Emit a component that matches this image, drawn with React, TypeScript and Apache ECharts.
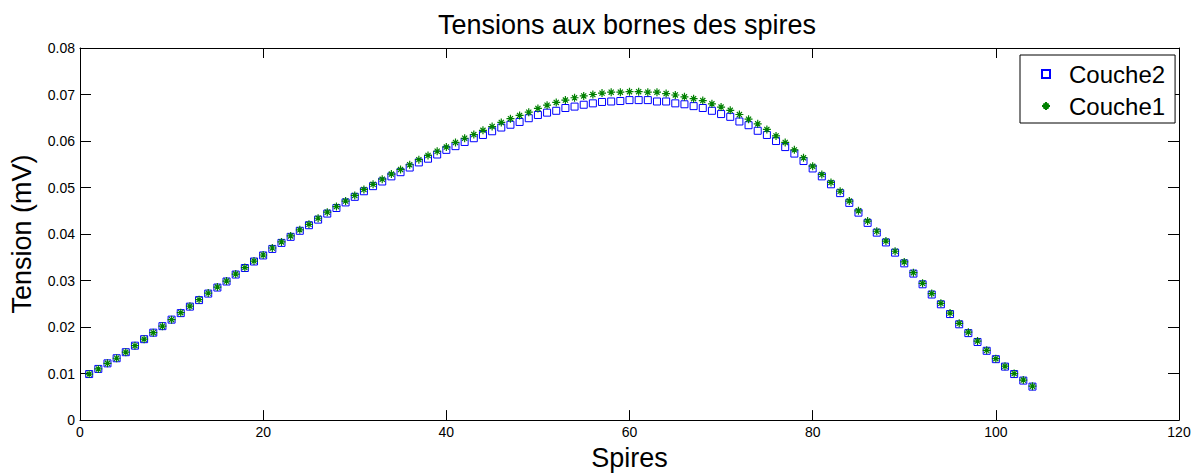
import React, { useEffect, useRef } from "react";
import * as echarts from "echarts";

const FONT = "'Liberation Sans', Arial, Helvetica, sans-serif";

const titleText = "Tensions aux bornes des spires";
const xAxisName = "Spires";
const yAxisName = "Tension (mV)";
const seriesNames = ["Couche2", "Couche1"];

const xTicks = [0, 20, 40, 60, 80, 100, 120];
const yTickLabels = ["0", "0.01", "0.02", "0.03", "0.04", "0.05", "0.06", "0.07", "0.08"];

// Couche2 (blue squares), spires 1..104
const couche2 = [
  0.0099, 0.0110, 0.0122, 0.0133, 0.0146, 0.0160, 0.0174, 0.0188, 0.0202, 0.0216,
  0.0230, 0.0244, 0.0258, 0.0272, 0.0285, 0.0298, 0.0313, 0.0327, 0.0341, 0.0354,
  0.0368, 0.0381, 0.0394, 0.0407, 0.0419, 0.0431, 0.0444, 0.0456, 0.0468, 0.0480,
  0.0492, 0.0503, 0.0513, 0.0524, 0.0533, 0.0543, 0.0554, 0.0562, 0.0571, 0.0581,
  0.0589, 0.0598, 0.0606, 0.0613, 0.0621, 0.0629, 0.0635, 0.0641, 0.0649, 0.0656,
  0.0661, 0.0665, 0.0671, 0.0674, 0.0678, 0.0681, 0.0684, 0.0685, 0.0686, 0.0688,
  0.0688, 0.0688, 0.0685, 0.0685, 0.0681, 0.0679, 0.0675, 0.0671, 0.0665, 0.0658,
  0.0652, 0.0642, 0.0634, 0.0622, 0.0613, 0.0600, 0.0587, 0.0573, 0.0557, 0.0541,
  0.0524, 0.0507, 0.0488, 0.0467, 0.0446, 0.0424, 0.0403, 0.0382, 0.0360, 0.0337,
  0.0315, 0.0292, 0.0270, 0.0249, 0.0228, 0.0206, 0.0187, 0.0168, 0.0149, 0.0131,
  0.0115, 0.0099, 0.0085, 0.0072,
];

// Couche1 (green asterisks), spires 1..104
const couche1 = [
  0.0099, 0.0110, 0.0122, 0.0133, 0.0146, 0.0160, 0.0174, 0.0188, 0.0202, 0.0216,
  0.0231, 0.0245, 0.0259, 0.0273, 0.0286, 0.0299, 0.0314, 0.0328, 0.0342, 0.0355,
  0.0370, 0.0383, 0.0396, 0.0409, 0.0421, 0.0434, 0.0447, 0.0459, 0.0471, 0.0483,
  0.0496, 0.0507, 0.0518, 0.0529, 0.0539, 0.0549, 0.0560, 0.0569, 0.0578, 0.0587,
  0.0597, 0.0606, 0.0614, 0.0623, 0.0631, 0.0640, 0.0648, 0.0655, 0.0662, 0.0670,
  0.0677, 0.0683, 0.0688, 0.0693, 0.0697, 0.0700, 0.0703, 0.0705, 0.0705, 0.0706,
  0.0706, 0.0705, 0.0705, 0.0702, 0.0699, 0.0695, 0.0691, 0.0687, 0.0680, 0.0673,
  0.0666, 0.0657, 0.0647, 0.0637, 0.0625, 0.0611, 0.0597, 0.0581, 0.0564, 0.0546,
  0.0528, 0.0511, 0.0492, 0.0471, 0.0450, 0.0428, 0.0406, 0.0385, 0.0363, 0.0340,
  0.0317, 0.0294, 0.0272, 0.0251, 0.0230, 0.0208, 0.0189, 0.0170, 0.0150, 0.0132,
  0.0116, 0.0100, 0.0086, 0.0073,
];

const STAR = "path://M5 0L5 10M0 5L10 5M1.8 1.8L8.2 8.2M1.8 8.2L8.2 1.8";

export default function App() {
  const ref = useRef<HTMLDivElement>(null);

  useEffect(() => {
    if (!ref.current) return;
    const chart = echarts.init(ref.current, undefined, { renderer: "svg" });

    const axisLine = { show: true, onZero: false, lineStyle: { color: "#000", width: 1 } };
    const xMin = xTicks[0];
    const xMax = xTicks[xTicks.length - 1];
    const xInterval = xTicks[1] - xTicks[0];
    const yMax = parseFloat(yTickLabels[yTickLabels.length - 1]);
    const yInterval = parseFloat(yTickLabels[1]);

    chart.setOption({
      animation: false,
      backgroundColor: "#fff",
      textStyle: { fontFamily: FONT },
      title: {
        text: titleText,
        left: 627,
        top: 11,
        textAlign: "center",
        padding: 0,
        textStyle: { fontFamily: FONT, fontSize: 27, fontWeight: "normal", color: "#000" },
      },
      legend: {
        data: seriesNames,
        orient: "vertical",
        left: 1020,
        top: 55,
        padding: [7, 10, 5, 21],
        itemGap: 8,
        itemWidth: 8,
        itemHeight: 8,
        backgroundColor: "#fff",
        borderColor: "#000",
        borderWidth: 1,
        textStyle: {
          fontFamily: FONT,
          fontSize: 24,
          lineHeight: 24,
          color: "#000",
          padding: [0, 0, 0, 14],
        },
      },
      grid: { left: 77, right: 21, top: 48, bottom: 51, containLabel: false },
      xAxis: [
        {
          type: "value",
          min: xMin,
          max: xMax,
          interval: xInterval,
          position: "bottom",
          name: xAxisName,
          nameLocation: "middle",
          nameGap: 22,
          nameTextStyle: { fontFamily: FONT, fontSize: 27, color: "#000" },
          axisLine,
          axisTick: { show: true, inside: true, length: 10, lineStyle: { color: "#000" } },
          axisLabel: { show: true, margin: 5, fontFamily: FONT, fontSize: 14, color: "#000" },
          splitLine: { show: false },
        },
        {
          type: "value",
          min: xMin,
          max: xMax,
          interval: xInterval,
          position: "top",
          axisLine,
          axisTick: { show: true, inside: true, length: 10, lineStyle: { color: "#000" } },
          axisLabel: { show: false },
          splitLine: { show: false },
        },
      ],
      yAxis: [
        {
          type: "value",
          min: 0,
          max: yMax,
          interval: yInterval,
          position: "left",
          name: yAxisName,
          nameLocation: "middle",
          nameGap: 45,
          nameTextStyle: { fontFamily: FONT, fontSize: 27, color: "#000" },
          axisLine,
          axisTick: { show: true, inside: true, length: 11, lineStyle: { color: "#000" } },
          axisLabel: {
            show: true,
            margin: 5,
            fontFamily: FONT,
            fontSize: 14,
            color: "#000",
            formatter: (v: number) => yTickLabels[Math.round(v / yInterval)] ?? String(v),
          },
          splitLine: { show: false },
        },
        {
          type: "value",
          min: 0,
          max: yMax,
          interval: yInterval,
          position: "right",
          axisLine,
          axisTick: { show: true, inside: true, length: 11, lineStyle: { color: "#000" } },
          axisLabel: { show: false },
          splitLine: { show: false },
        },
      ],
      series: [
        {
          name: seriesNames[0],
          type: "scatter",
          xAxisIndex: 0,
          yAxisIndex: 0,
          symbol: "rect",
          symbolSize: 7,
          itemStyle: { color: "rgba(255,255,255,0)", borderColor: "#0000ff", borderWidth: 1, opacity: 1 },
          data: couche2.map((v, i) => [i + 1, v]),
          z: 2,
        },
        {
          name: seriesNames[1],
          type: "scatter",
          xAxisIndex: 0,
          yAxisIndex: 0,
          symbol: STAR,
          symbolSize: 8,
          itemStyle: { color: "#008000", borderColor: "#008000", borderWidth: 1.2, opacity: 1 },
          data: couche1.map((v, i) => [i + 1, v]),
          z: 3,
        },
      ],
    });

    return () => chart.dispose();
  }, []);

  return (
    <div
      ref={ref}
      style={{ position: "absolute", left: 0, top: 0, width: 1200, height: 476, background: "#fff" }}
    />
  );
}
